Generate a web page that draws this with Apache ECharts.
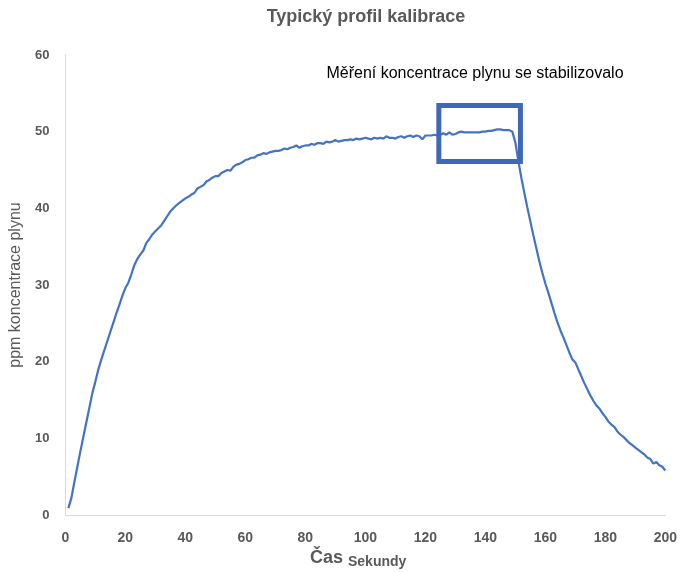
<!DOCTYPE html>
<html>
<head>
<meta charset="utf-8">
<script src="https://cdn.jsdelivr.net/npm/echarts@6/dist/echarts.min.js"></script>
<style>
html,body{margin:0;padding:0;background:#fff;}
#chart{width:680px;height:572px;}
</style>
</head>
<body>
<div id="chart"></div>
<script>
// Data
const titleText = 'Typický profil kalibrace';
const annotationText = 'Měření koncentrace plynu se stabilizovalo';
const yAxisTitle = 'ppm koncentrace plynu';
const xAxisTitle = 'Čas';
const xAxisUnit = 'Sekundy';
const xTicks = [0, 20, 40, 60, 80, 100, 120, 140, 160, 180, 200];
const yTicks = [0, 10, 20, 30, 40, 50, 60];
const startSecond = 1;
const ppm = [
  0.9, 2.2, 4.3, 6.3, 8.3, 10.2, 12.1, 14.0, 15.9, 17.4,
  19.0, 20.3, 21.5, 22.7, 23.9, 25.1, 26.3, 27.4, 28.6, 29.6,
  30.3, 31.4, 32.6, 33.4, 34.0, 34.5, 35.5, 36.0, 36.6, 37.0,
  37.4, 37.8, 38.4, 39.0, 39.6, 40.0, 40.4, 40.7, 41.0, 41.3,
  41.5, 41.8, 42.0, 42.6, 42.8, 43.0, 43.5, 43.7, 44.0, 44.2,
  44.2, 44.6, 44.8, 45.0, 44.9, 45.4, 45.7, 45.8, 46.0, 46.3,
  46.4, 46.6, 46.6, 46.9, 47.0, 47.2, 47.1, 47.3, 47.4, 47.5,
  47.5, 47.6, 47.8, 47.7, 47.9, 48.0, 48.2, 47.9, 48.1, 48.2,
  48.2, 48.4, 48.3, 48.5, 48.5, 48.4, 48.7, 48.6, 48.7, 48.9,
  48.7, 48.8, 48.9, 48.9, 49.0, 48.9, 49.1, 49.0, 49.1, 49.2,
  49.1, 49.0, 49.2, 49.1, 49.2, 49.1, 49.4, 49.2, 49.2, 49.1,
  49.3, 49.4, 49.2, 49.4, 49.5, 49.3, 49.5, 49.4, 49.0, 49.5,
  49.5, 49.5, 49.6, 49.5, 49.6, 49.8, 49.6, 49.9, 49.6, 49.7,
  49.9, 50.0, 49.9, 49.9, 49.9, 49.9, 49.9, 49.9, 50.0, 50.0,
  50.1, 50.1, 50.2, 50.3, 50.3, 50.2, 50.2, 50.2, 50.0, 48.6,
  46.2, 44.0, 42.0, 40.1, 38.3, 36.5, 34.8, 33.1, 31.6, 30.2,
  29.0, 27.7, 26.4, 25.2, 24.1, 23.2, 22.2, 21.2, 20.3, 19.9,
  19.0, 18.1, 17.2, 16.4, 15.6, 14.9, 14.3, 13.9, 13.3, 12.8,
  12.2, 11.8, 11.5, 10.9, 10.5, 10.2, 9.8, 9.4, 9.1, 8.8,
  8.5, 8.2, 7.9, 7.5, 7.3, 6.7, 6.9, 6.5, 6.3, 5.8
];
// highlighted region (data coordinates): seconds and ppm bounds
const boxSeconds = [124.5, 151.7];
const boxPpm = [46.1, 53.4];

const seriesData = ppm.map((v, i) => [startSecond + i, v]);

const chart = echarts.init(document.getElementById('chart'), null, {renderer: 'canvas'});
const labelColor = '#595959';
const font = '"Liberation Sans", Arial, sans-serif';

chart.setOption({
  animation: false,
  backgroundColor: '#ffffff',
  grid: {left: 63, right: 14, top: 55, bottom: 57, containLabel: false},
  xAxis: {
    type: 'value',
    min: xTicks[0], max: xTicks[xTicks.length - 1], interval: xTicks[1] - xTicks[0],
    axisLine: {show: true, lineStyle: {color: '#d9d9d9', width: 1}},
    axisTick: {show: false},
    splitLine: {show: false},
    axisLabel: {color: labelColor, fontFamily: font, fontWeight: 'bold', fontSize: 14, margin: 16}
  },
  yAxis: {
    type: 'value',
    min: yTicks[0], max: yTicks[yTicks.length - 1], interval: yTicks[1] - yTicks[0],
    axisLine: {show: true, lineStyle: {color: '#d9d9d9', width: 1}},
    axisTick: {show: false},
    splitLine: {show: false},
    axisLabel: {color: labelColor, fontFamily: font, fontWeight: 'bold', fontSize: 13, margin: 16},
    name: yAxisTitle,
    nameLocation: 'middle',
    nameGap: 40,
    nameRotate: 90,
    nameTextStyle: {color: labelColor, fontFamily: font, fontSize: 16}
  },
  series: [{
    type: 'line',
    data: seriesData,
    showSymbol: false,
    symbol: 'none',
    lineStyle: {color: '#4472C4', width: 2.2},
    z: 3,
    markArea: {
      silent: true,
      z: 4,
      itemStyle: {color: 'rgba(0,0,0,0)', borderColor: '#4068B8', borderWidth: 5},
      data: [[{xAxis: boxSeconds[0], yAxis: boxPpm[1]}, {xAxis: boxSeconds[1], yAxis: boxPpm[0]}]]
    }
  }],
  graphic: [
    {type: 'text', x: 366, y: 17, style: {text: titleText, fill: labelColor, font: 'bold 18px ' + font, textAlign: 'center', textVerticalAlign: 'middle'}},
    {type: 'text', x: 475, y: 74, style: {text: annotationText, fill: '#000000', font: '16px ' + font, textAlign: 'center', textVerticalAlign: 'middle'}},
    {type: 'text', x: 343, y: 558, style: {text: xAxisTitle, fill: labelColor, font: 'bold 18px ' + font, textAlign: 'right', textVerticalAlign: 'middle'}},
    {type: 'text', x: 348, y: 562, style: {text: xAxisUnit, fill: labelColor, font: 'bold 14px ' + font, textAlign: 'left', textVerticalAlign: 'middle'}}
  ]
});
</script>
</body>
</html>
